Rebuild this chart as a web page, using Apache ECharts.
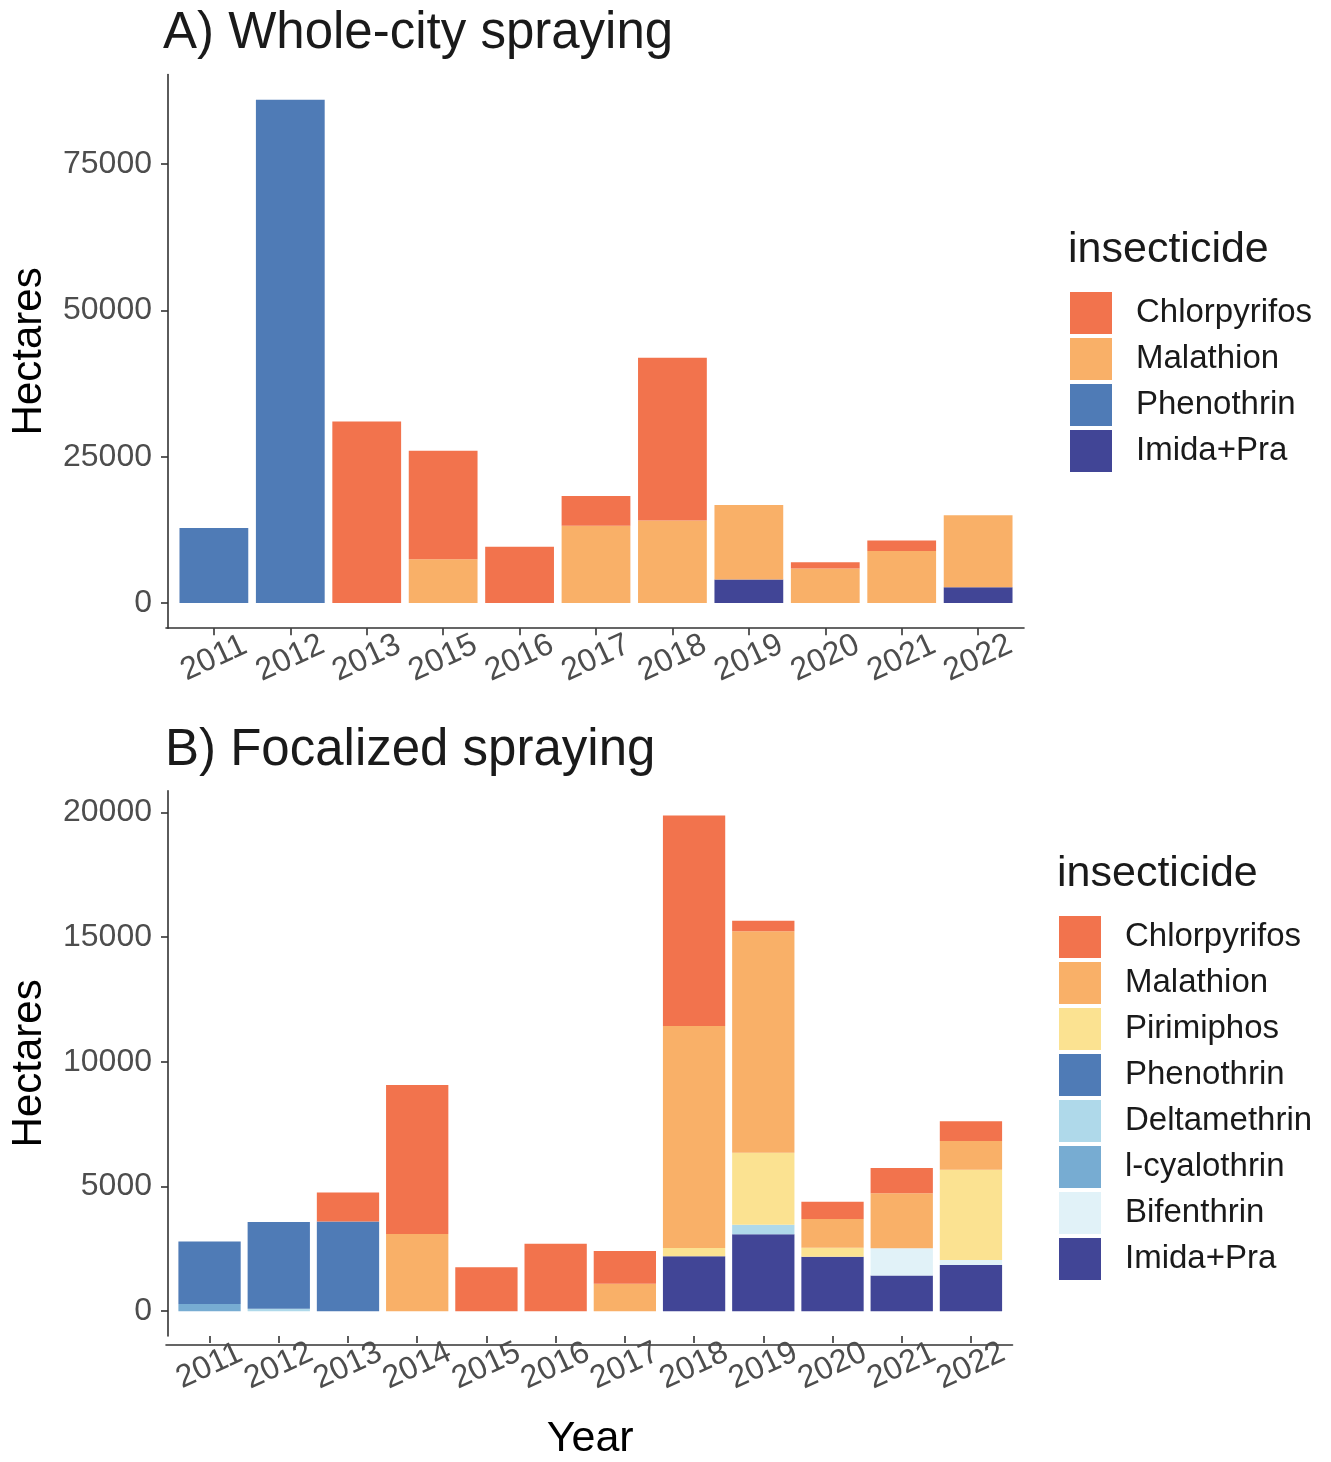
<!DOCTYPE html>
<html>
<head>
<meta charset="utf-8">
<script src="https://cdn.jsdelivr.net/npm/echarts@6/dist/echarts.min.js"></script>
<style>
html,body{margin:0;padding:0;background:#fff;}
#chart{width:1331px;height:1462px;}
</style>
</head>
<body>
<div id="chart"></div>
<script>
// ---------- DATA ----------
const yearsA = ['2011','2012','2013','2015','2016','2017','2018','2019','2020','2021','2022'];
const chlorA = [0, 0, 31000, 18500, 9600, 5100, 27800, 0, 1050, 1800, 0];
const malaA  = [0, 0, 0, 7500, 0, 13200, 14100, 12750, 5900, 8900, 12300];
const phenoA = [12800, 86000, 0, 0, 0, 0, 0, 0, 0, 0, 0];
const imidaA = [0, 0, 0, 0, 0, 0, 0, 4000, 0, 0, 2700];
const ticksA = [0, 25000, 50000, 75000];

const yearsB = ['2011','2012','2013','2014','2015','2016','2017','2018','2019','2020','2021','2022'];
const chlorB = [0, 0, 1160, 5970, 1760, 2710, 1320, 8440, 420, 700, 1010, 790];
const malaB  = [0, 0, 0, 3100, 0, 0, 1100, 8900, 8880, 1145, 2200, 1160];
const pirimB = [0, 0, 0, 0, 0, 0, 0, 340, 2890, 370, 0, 3620];
const phenoB = [2510, 3480, 3600, 0, 0, 0, 0, 0, 0, 0, 0, 0];
const deltaB = [0, 100, 0, 0, 0, 0, 0, 0, 380, 0, 0, 0];
const lcyalB = [290, 0, 0, 0, 0, 0, 0, 0, 0, 0, 0, 0];
const bifenB = [0, 0, 0, 0, 0, 0, 0, 0, 0, 0, 1100, 200];
const imidaB = [0, 0, 0, 0, 0, 0, 0, 2200, 3090, 2180, 1430, 1850];
const ticksB = [0, 5000, 10000, 15000, 20000];

const legendA = ['Chlorpyrifos','Malathion','Phenothrin','Imida+Pra'];
const legendB = ['Chlorpyrifos','Malathion','Pirimiphos','Phenothrin','Deltamethrin','l-cyalothrin','Bifenthrin','Imida+Pra'];

// ---------- STYLE ----------
const colors = {
  'Chlorpyrifos':'#f2734d','Malathion':'#f9b068','Pirimiphos':'#fbe291','Phenothrin':'#4f7bb6',
  'Deltamethrin':'#afd9ea','l-cyalothrin':'#77acd2','Bifenthrin':'#e1f2f8','Imida+Pra':'#414596'
};
const FONT = "'Liberation Sans', Arial, sans-serif";

function totals(arrs){ return arrs[0].map((_,i)=>arrs.reduce((s,a)=>s+a[i],0)); }
const maxA = Math.max(...totals([chlorA,malaA,phenoA,imidaA]));
const maxB = Math.max(...totals([chlorB,malaB,pirimB,phenoB,deltaB,lcyalB,bifenB,imidaB]));

// panel geometry (ggplot-like expansion: 0.6 band each side on x, 5% on y)
const axisX = 166;
const pA = {top:74.5, bottom:628.2, right:1024, n:yearsA.length};
const pB = {top:790.8, bottom:1345.2, right:1012.5, n:yearsB.length};
function geom(p){
  const w = p.right - axisX;
  const unit = w/(p.n+0.2);
  return {left: axisX + 0.1*unit, width: unit*p.n, top:p.top, height:p.bottom-p.top, off:0.1*unit, fullW:w};
}
const gA = geom(pA), gB = geom(pB);

const axisLineStyle = {color:'#333333', width:1.6};
const tickLabel = {color:'#4d4d4d', fontSize:32, fontFamily:FONT};

function catAxis(gridIndex, data){
  return {
    type:'category', gridIndex, data, position:'bottom',
    boundaryGap:true,
    axisLine:{show:false, onZero:false},
    axisTick:{show:true, alignWithLabel:true, length:7, lineStyle:axisLineStyle},
    axisLabel:Object.assign({rotate:25, margin:30, align:'center', verticalAlign:'middle', interval:0}, tickLabel),
    splitLine:{show:false}
  };
}
function frameX(gridIndex){
  return {type:'value', gridIndex, min:0, max:1, position:'bottom',
    axisLine:{show:true, onZero:false, lineStyle:axisLineStyle},
    axisTick:{show:false}, axisLabel:{show:false}, splitLine:{show:false}};
}
function frameY(gridIndex){
  return {type:'value', gridIndex, min:0, max:1, show:false};
}
function valAxis(gridIndex, maxV, ticks, off){
  return {
    type:'value', gridIndex, min:-0.05*maxV, max:1.05*maxV, offset:off,
    axisLine:{show:true, onZero:false, lineStyle:axisLineStyle},
    axisTick:{show:true, length:7, lineStyle:axisLineStyle, customValues:ticks},
    axisLabel:Object.assign({margin:16, customValues:ticks, formatter:v=>String(v)}, tickLabel),
    splitLine:{show:false},
    name:'Hectares', nameLocation:'middle', nameGap:118,
    nameTextStyle:{fontSize:42, color:'#000', fontFamily:FONT}
  };
}

function bar(name, data, xi, yi, stack){
  return {type:'bar', name, data, xAxisIndex:xi, yAxisIndex:yi, stack,
    barCategoryGap:'10%', itemStyle:{color:colors[name]}, emphasis:{disabled:true}};
}

const series = [
  bar('Imida+Pra', imidaA, 0, 0, 'A'),
  bar('Phenothrin', phenoA, 0, 0, 'A'),
  bar('Malathion', malaA, 0, 0, 'A'),
  bar('Chlorpyrifos', chlorA, 0, 0, 'A'),
  bar('Imida+Pra', imidaB, 2, 2, 'B'),
  bar('Bifenthrin', bifenB, 2, 2, 'B'),
  bar('l-cyalothrin', lcyalB, 2, 2, 'B'),
  bar('Deltamethrin', deltaB, 2, 2, 'B'),
  bar('Phenothrin', phenoB, 2, 2, 'B'),
  bar('Pirimiphos', pirimB, 2, 2, 'B'),
  bar('Malathion', malaB, 2, 2, 'B'),
  bar('Chlorpyrifos', chlorB, 2, 2, 'B')
];

const xB = catAxis(2, yearsB);
xB.name = 'Year'; xB.nameLocation = 'middle'; xB.nameGap = 82;
xB.nameTextStyle = {fontSize:43, color:'#000', fontFamily:FONT};

function legend(data, left, top){
  return {data, orient:'vertical', left, top, icon:'rect', itemWidth:42, itemHeight:42, itemGap:4,
    selectedMode:false,
    textStyle:{fontSize:33, color:'#1a1a1a', fontFamily:FONT, padding:[0,0,0,19]}};
}

const option = {
  animation:false,
  backgroundColor:'#ffffff',
  title:[
    {text:'A) Whole-city spraying', left:158, top:3, textStyle:{fontSize:51, fontWeight:'normal', color:'#1a1a1a', fontFamily:FONT}},
    {text:'B) Focalized spraying', left:160, top:720, textStyle:{fontSize:51, fontWeight:'normal', color:'#1a1a1a', fontFamily:FONT}},
    {text:'insecticide', left:1063, top:224, textStyle:{fontSize:43, fontWeight:'normal', color:'#1a1a1a', fontFamily:FONT}},
    {text:'insecticide', left:1052, top:848, textStyle:{fontSize:43, fontWeight:'normal', color:'#1a1a1a', fontFamily:FONT}}
  ],
  legend:[legend(legendA, 1065, 287), legend(legendB, 1054, 911)],
  grid:[
    {left:gA.left, top:gA.top, width:gA.width, height:gA.height},
    {left:axisX, top:gA.top, width:gA.fullW, height:gA.height},
    {left:gB.left, top:gB.top, width:gB.width, height:gB.height},
    {left:axisX, top:gB.top, width:gB.fullW, height:gB.height}
  ],
  xAxis:[catAxis(0, yearsA), frameX(1), xB, frameX(3)],
  yAxis:[valAxis(0, maxA, ticksA, gA.off), frameY(1), valAxis(2, maxB, ticksB, gB.off), frameY(3)],
  series
};

const chart = echarts.init(document.getElementById('chart'), null, {renderer:'canvas'});
chart.setOption(option);
</script>
</body>
</html>
